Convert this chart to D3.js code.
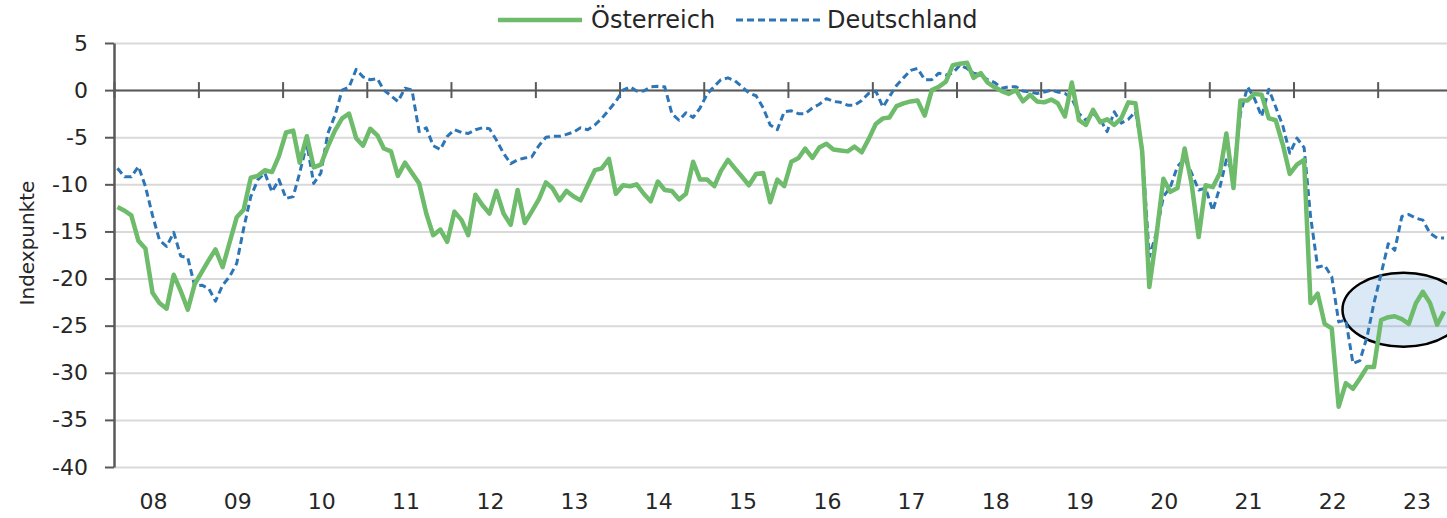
<!DOCTYPE html>
<html>
<head>
<meta charset="utf-8">
<script src="https://cdn.jsdelivr.net/npm/d3@7"></script>
<style>
  html, body { margin: 0; padding: 0; background: #fff; }
  svg { display: block; font-family: "DejaVu Sans", sans-serif; }
  .tick text { fill: #262626; }
</style>
</head>
<body>
<svg id="chart" width="1447" height="518"></svg>
<script>
// monthly index values, Jan 2008 .. Oct 2023
const START = new Date(2008, 0, 1);

const AT = [
  -12.4, -12.8, -13.3, -16.0, -16.8, -21.5, -22.6, -23.2, -19.6, -21.3, -23.3, -20.6,
  -19.3, -18.0, -16.9, -18.8, -16.2, -13.5, -12.7, -9.3, -9.1, -8.5, -8.7, -7.0,
  -4.5, -4.3, -7.7, -4.9, -8.2, -7.9, -6.0, -4.3, -3.0, -2.5, -5.1, -5.9,
  -4.1, -4.8, -6.2, -6.5, -9.1, -7.7, -8.8, -9.9, -13.1, -15.4, -14.8, -16.1,
  -12.9, -13.8, -15.4, -11.1, -12.2, -13.1, -10.7, -13.1, -14.3, -10.6, -14.1, -12.9,
  -11.6, -9.8, -10.4, -11.7, -10.7, -11.3, -11.7, -10.1, -8.5, -8.3, -7.3, -11.0,
  -10.1, -10.2, -10.0, -11.0, -11.8, -9.7, -10.6, -10.7, -11.6, -11.0, -7.6, -9.5,
  -9.5, -10.2, -8.6, -7.4, -8.3, -9.2, -10.1, -8.9, -8.8, -11.9, -9.5, -10.2,
  -7.6, -7.2, -6.2, -7.2, -6.1, -5.7, -6.3, -6.4, -6.5, -6.0, -6.6, -5.2,
  -3.6, -3.0, -2.9, -1.7, -1.4, -1.2, -1.1, -2.7, 0.0, 0.35, 0.9, 2.65,
  2.8, 2.9, 1.3, 1.8, 0.8, 0.3, -0.1, -0.4, 0.0, -1.2, -0.5, -1.2,
  -1.3, -1.0, -1.4, -2.8, 0.8, -3.2, -3.7, -2.1, -3.4, -3.1, -3.7, -3.0,
  -1.3, -1.4, -6.5, -20.9, -15.6, -9.4, -10.8, -10.4, -6.2, -9.9, -15.6, -10.1,
  -10.3, -8.8, -4.6, -10.4, -1.1, -1.1, -0.4, -0.5, -3.0, -3.2, -5.8, -8.9,
  -7.9, -7.4, -22.6, -21.6, -24.8, -25.3, -33.6, -31.1, -31.7, -30.6, -29.4, -29.4,
  -24.4, -24.1, -24.0, -24.3, -24.8, -22.6, -21.4, -22.6, -24.9, -23.5
];

const DE = [
  -8.3, -9.2, -9.2, -8.1, -10.2, -13.3, -15.9, -16.6, -15.1, -17.6, -17.8, -20.8,
  -20.7, -21.1, -22.4, -20.7, -19.8, -18.4, -14.7, -11.3, -9.5, -8.8, -10.8, -9.5,
  -11.5, -11.3, -8.8, -5.7, -9.9, -8.8, -4.6, -2.7, 0.0, 0.3, 2.2, 1.4,
  1.1, 1.2, 0.0, -0.6, -1.2, 0.2, 0.0, -4.4, -4.0, -5.9, -6.3, -4.9,
  -4.2, -4.5, -4.6, -4.2, -4.0, -4.1, -5.3, -6.7, -7.8, -7.4, -7.2, -7.1,
  -5.9, -5.0, -4.9, -4.9, -4.7, -4.45, -4.0, -4.2, -3.7, -3.0, -2.1, -1.2,
  0.0, 0.35, -0.1, -0.1, 0.35, 0.4, 0.35, -2.5, -3.2, -2.4, -2.9, -1.9,
  -0.4, 0.4, 1.1, 1.3, 1.0, 0.35, -0.3, -0.6, -1.9, -3.7, -4.2, -2.3,
  -2.2, -2.5, -2.5, -1.9, -1.5, -0.9, -1.2, -1.3, -1.6, -1.6, -1.1, -0.35,
  -0.1, -1.8, -0.7, 0.5, 1.3, 2.1, 2.3, 1.1, 1.1, 1.8, 1.6, 1.8,
  2.65, 2.3, 1.8, 1.6, 1.1, 0.8, 0.2, 0.35, 0.35, -0.1, -0.2, -0.35,
  -0.2, 0.0, -0.2, -0.35, -0.9, -2.5, -3.2, -2.5, -3.1, -4.4, -2.3, -3.5,
  -3.1, -2.3, -6.2, -17.7, -15.2, -11.3, -10.3, -8.1, -7.3, -8.8, -10.6, -10.4,
  -12.8, -10.3, -7.4, -8.8, -2.5, 0.35, -0.9, -2.8, 0.1, -1.8, -3.8, -6.7,
  -5.1, -6.1, -13.4, -18.8, -18.6, -19.8, -24.6, -24.4, -29.0, -28.7, -26.2, -22.6,
  -19.5, -16.3, -17.0, -13.4, -13.2, -13.6, -13.8, -15.2, -15.7, -15.7
];

const SERIES_NAMES = ['Österreich', 'Deutschland'];
const Y_TICKS = [5, 0, -5, -10, -15, -20, -25, -30, -35, -40];
const Y_TITLE = 'Indexpunkte';

const GREEN = '#6dbb6b';
const BLUE = '#2e75b6';
const AXIS = '#595959';

const svg = d3.select('#chart');
const M = { left: 114, top: 43, bottom: 467 };
const monthPx = 7.02;

// months as dates, one point per month placed mid-month
const months = AT.map((_, i) => d3.timeMonth.offset(START, i));
const mid = d => new Date(d.getFullYear(), d.getMonth(), 16);

const x = d3.scaleTime()
  .domain([START, new Date(2024, 0, 1)])
  .range([M.left, M.left + 192 * monthPx]);
const y = d3.scaleLinear().domain([-40, 5]).range([M.bottom, M.top]);
const xRight = x.range()[1];

// horizontal gridlines
svg.append('g')
  .attr('transform', `translate(${M.left},0)`)
  .call(d3.axisLeft(y).tickValues(Y_TICKS).tickSize(-(xRight - M.left)).tickFormat(''))
  .call(g => g.select('.domain').remove())
  .call(g => g.selectAll('line').attr('stroke', '#d9d9d9').attr('stroke-width', 2));

// highlight ellipse (latest months)
svg.append('ellipse')
  .attr('cx', x(new Date(2023, 3, 23)))
  .attr('cy', y(-23.3))
  .attr('rx', 61).attr('ry', 37)
  .attr('fill', 'rgba(91,155,213,0.22)')
  .attr('stroke', '#000').attr('stroke-width', 2.5);

// zero line = category axis with year ticks
const years = d3.timeYear.range(new Date(2008, 0, 1), new Date(2024, 0, 2));
svg.append('g')
  .attr('transform', `translate(0,${y(0)})`)
  .call(d3.axisBottom(x).tickValues(years).tickSize(8).tickSizeOuter(0).tickFormat(''))
  .call(g => g.select('.domain').attr('stroke', AXIS).attr('stroke-width', 2))
  .call(g => g.selectAll('.tick line').attr('y1', -8).attr('y2', 8)
    .attr('stroke', AXIS).attr('stroke-width', 2));

// y axis (plain hyphen minus as in the original)
svg.append('g')
  .attr('transform', `translate(${M.left},0)`)
  .call(d3.axisLeft(y).tickValues(Y_TICKS).tickSize(9).tickPadding(17).tickSizeOuter(0)
    .tickFormat(d => String(d)))
  .call(g => g.select('.domain').attr('stroke', AXIS).attr('stroke-width', 2.5))
  .call(g => g.selectAll('.tick line').attr('stroke', AXIS).attr('stroke-width', 2))
  .call(g => g.selectAll('.tick text').attr('font-size', 22)
    .attr('font-family', '"DejaVu Sans", sans-serif'));

// year labels below the plot, centred in each year
const yearMids = years.slice(0, -1).map(d => new Date(d.getFullYear(), 6, 1));
svg.append('g')
  .attr('transform', `translate(0,${M.bottom})`)
  .call(d3.axisBottom(x).tickValues(yearMids).tickSize(0).tickPadding(26)
    .tickFormat(d3.timeFormat('%y')))
  .call(g => g.select('.domain').remove())
  .call(g => g.selectAll('.tick text').attr('font-size', 22).attr('dx', -3)
    .attr('font-family', '"DejaVu Sans", sans-serif'));

// y title
svg.append('text')
  .attr('transform', `translate(34,243) rotate(-90)`)
  .attr('text-anchor', 'middle')
  .attr('font-size', 20)
  .attr('fill', '#262626')
  .text(Y_TITLE);

// lines
const line = vals => d3.line()
  .x((d, i) => x(mid(months[i])))
  .y(d => y(d))(vals);

svg.append('path')
  .attr('d', line(DE))
  .attr('fill', 'none')
  .attr('stroke', BLUE)
  .attr('stroke-width', 3)
  .attr('stroke-dasharray', '7,4')
  .attr('stroke-linejoin', 'round');

svg.append('path')
  .attr('d', line(AT))
  .attr('fill', 'none')
  .attr('stroke', GREEN)
  .attr('stroke-width', 4.5)
  .attr('stroke-linejoin', 'round');

// legend
const legend = svg.append('g').attr('transform', 'translate(0,20)');
const legendItems = [
  { name: SERIES_NAMES[0], color: GREEN, w: 4.5, dash: null, x0: 498, x1: 582, tx: 591 },
  { name: SERIES_NAMES[1], color: BLUE, w: 3, dash: '7,4', x0: 736, x1: 820, tx: 827 },
];
legendItems.forEach(it => {
  legend.append('line')
    .attr('x1', it.x0).attr('x2', it.x1)
    .attr('stroke', it.color).attr('stroke-width', it.w)
    .attr('stroke-dasharray', it.dash);
  legend.append('text')
    .attr('x', it.tx).attr('y', 0)
    .attr('dy', '0.35em')
    .attr('font-size', 24)
    .attr('fill', '#262626')
    .text(it.name);
});
</script>
</body>
</html>
